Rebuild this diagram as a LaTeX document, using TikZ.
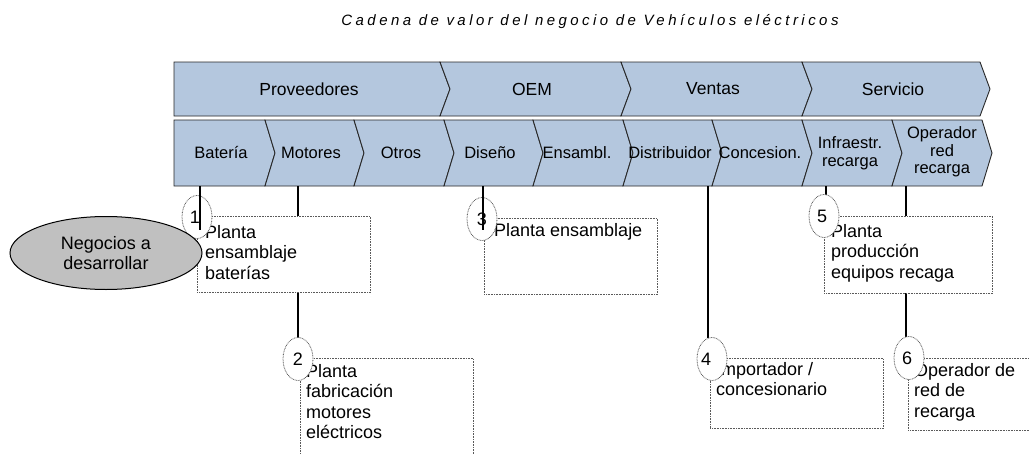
\documentclass[tikz,border=0pt]{standalone}
\usepackage{fontspec}
\setmainfont{Liberation Sans}
\newfontfamily\titlefont[LetterSpace=23]{Liberation Sans}
\usetikzlibrary{shapes.geometric}
\definecolor{chevfill}{RGB}{180,199,222}
\definecolor{chevline}{RGB}{40,40,40}
\definecolor{dotline}{RGB}{90,90,90}
\definecolor{negfill}{RGB}{192,192,192}
\newcommand{\boxtxt}[1]{\parbox[t]{170pt}{\raggedright\fontsize{18}{20.5}\selectfont #1}}
\begin{document}
\begin{tikzpicture}[x=1pt,y=-1pt,
  chev/.style={draw=chevline,fill=chevfill,line width=0.9pt,line join=miter},
  toplab/.style={font=\fontsize{17.5}{19}\selectfont,inner sep=0pt},
  sublab/.style={font=\fontsize{16.5}{17.5}\selectfont,inner sep=0pt,align=center},
  infobox/.style={draw=dotline,fill=white,line width=0.8pt,dash pattern=on 0.8pt off 0.8pt,anchor=north west,inner sep=0pt},
  numcirc/.style={ellipse,draw=dotline,fill=white,line width=0.8pt,dash pattern=on 0.8pt off 0.8pt,minimum width=30pt,minimum height=43pt,inner sep=0pt,font=\fontsize{18}{20}\selectfont},
  boxtext/.style={anchor=base west,inner sep=0pt},
  conn/.style={draw=black,line width=1.1pt}]
\useasboundingbox (0,0) rectangle (1029,453);
\clip (0,0) rectangle (1029,453);
\fill[white] (0,0) rectangle (1029,453);

% title
\node[inner sep=0pt] (title) at (590,22) {\titlefont\itshape\fontsize{15}{18}\selectfont Cadena de valor del negocio de Vehículos eléctricos};

% top row chevrons
\foreach \L/\R/\f in {174/440/0,440/621/1,621/802/1,802/980/1}
  \draw[chev] (\L,62) -- (\R,62) -- (\R+10,89) -- (\R,116) -- (\L,116) -- (\L+10*\f,89) -- cycle;
% second row chevrons
\foreach \L/\R/\f in {174/265/0,265/354/1,354/444/1,444/533/1,533/623/1,623/712/1,712/802/1,802/892/1,892/982/1}
  \draw[chev] (\L,120) -- (\R,120) -- (\R+10,153) -- (\R,186) -- (\L,186) -- (\L+10*\f,153) -- cycle;

% top labels
\node[toplab] (prov) at (309,89) {Proveedores};
\node[toplab] (oem)  at (532,89) {OEM};
\node[toplab] (vent) at (713,89) {Ventas};
\node[toplab] (serv) at (893,89) {Servicio};
% second row labels
\node[sublab] (bat) at (221,153) {Batería};
\node[sublab] (mot) at (311,153) {Motores};
\node[sublab] (otr) at (401,153) {Otros};
\node[sublab] (dis) at (490,153) {Diseño};
\node[sublab] (ens) at (577,153) {Ensambl.};
\node[sublab] (dst) at (670,153) {Distribuidor};
\node[sublab] (con) at (760,153) {Concesion.};
\node[sublab] (inf) at (850,153) {Infraestr.\\recarga};
\node[sublab] (ope) at (942,152) {Operador\\red\\recarga};

% connector anchor points
\coordinate (t1) at (200,186);
\coordinate (t2) at (298,186);
\coordinate (t3) at (483,186);
\coordinate (t4) at (708,186);
\coordinate (t5) at (826,186);
\coordinate (t6) at (906,186);
\coordinate (e1) at (200,230);
\coordinate (e3) at (483,230);

% number circle positions
\path (197,217) coordinate (p1) (298,359) coordinate (p2) (482,219) coordinate (p3)
      (712,359) coordinate (p4) (824,216) coordinate (p5) (909,358) coordinate (p6);

% long connectors (behind boxes)
\draw[conn] (t2) -- (t2 |- 0,338);
\draw[conn] (t4) -- (t4 |- 0,338);
\draw[conn] (t5) -- (t5 |- 0,195);
\draw[conn] (t6) -- (t6 |- 0,337);

% boxes
\node[infobox,minimum width=173pt,minimum height=76pt] (b1) at (197,216) {};
\node[infobox,minimum width=173pt,minimum height=110pt] (b2) at (300,358) {};
\node[infobox,minimum width=173pt,minimum height=76pt] (b3) at (484,218) {};
\node[infobox,minimum width=173pt,minimum height=70pt] (b4) at (710,358) {};
\node[infobox,minimum width=168pt,minimum height=77pt] (b5) at (824,216) {};
\node[infobox,minimum width=173pt,minimum height=72pt] (b6) at (908,358) {};

% box texts
\node[boxtext] (x1) at (205,238) {\boxtxt{Planta\\ensamblaje\\baterías}};
\node[boxtext] (x2) at (306,377) {\boxtxt{Planta\\fabricación\\motores\\eléctricos}};
\node[boxtext] (x3) at (494,236) {\boxtxt{Planta ensamblaje}};
\node[boxtext] (x4) at (716,375) {\boxtxt{Importador /\\concesionario}};
\node[boxtext] (x5) at (831,237) {\boxtxt{Planta\\producción\\equipos recaga}};
\node[boxtext] (x6) at (914,376) {\boxtxt{Operador de\\red de\\recarga}};

% circles
\node[numcirc] (n1) at (p1) {\hspace*{-4pt}1};
\node[numcirc] (n2) at (p2) {2};
\node[numcirc] (n3) at (p3) {3};
\node[numcirc] (n4) at (p4) {\hspace*{-12pt}4};
\node[numcirc] (n5) at (p5) {\hspace*{-4pt}5};
\node[numcirc] (n6) at (p6) {\hspace*{-4pt}6};

% short connectors over circles
\draw[conn] (t1) -- (e1);
\draw[conn] (t3) -- (e3);

% negocios ellipse
\node[ellipse,draw=black,fill=negfill,line width=1pt,minimum width=192pt,minimum height=73pt,inner sep=0pt,align=center,font=\fontsize{18}{20}\selectfont] (neg) at (106,253) {Negocios a\\desarrollar};
\end{tikzpicture}
\end{document}
